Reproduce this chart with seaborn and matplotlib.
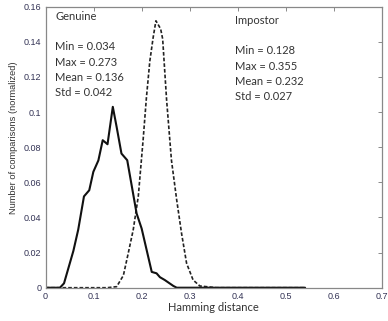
import matplotlib
matplotlib.use("Agg")
import matplotlib.pyplot as plt
import seaborn as sns
import pandas as pd

# Genuine distribution (Hamming distance, normalized count)
genuine_x = [0.0, 0.030, 0.0385, 0.058, 0.068, 0.080, 0.091, 0.0995, 0.110, 0.119,
             0.129, 0.140, 0.148, 0.158, 0.170, 0.1895, 0.200, 0.221, 0.231, 0.238,
             0.248, 0.266, 0.273, 0.54]
genuine_y = [0.0, 0.0, 0.0025, 0.021, 0.033, 0.052, 0.0555, 0.066, 0.0725, 0.084,
             0.0817, 0.103, 0.0915, 0.0764, 0.0726, 0.0423, 0.0337, 0.009, 0.0082, 0.006,
             0.0044, 0.001, 0.0, 0.0]

# Impostor distribution
impostor_x = [0.0, 0.128, 0.148, 0.162, 0.172, 0.1825, 0.193, 0.203, 0.210, 0.217,
              0.224, 0.2297, 0.2395, 0.2437, 0.252, 0.262, 0.273, 0.283, 0.2935, 0.307,
              0.321, 0.355, 0.54]
impostor_y = [0.0, 0.0, 0.0006, 0.007, 0.0195, 0.033, 0.052, 0.084, 0.1085, 0.129,
              0.1426, 0.152, 0.1474, 0.1417, 0.1066, 0.0726, 0.0498, 0.031, 0.0139, 0.0044,
              0.001, 0.0, 0.0]

genuine_stats = ["Min = 0.034", "Max = 0.273", "Mean = 0.136", "Std = 0.042"]
impostor_stats = ["Min = 0.128", "Max = 0.355", "Mean = 0.232", "Std = 0.027"]
xticks = [0, 0.1, 0.2, 0.3, 0.4, 0.5, 0.6, 0.7]
xtick_labels = ["0", "0.1", "0.2", "0.3", "0.4", "0.5", "0.6", "0.7"]
yticks = [0, 0.02, 0.04, 0.06, 0.08, 0.1, 0.12, 0.14, 0.16]
ytick_labels = ["0", "0.02", "0.04", "0.06", "0.08", "0.1", "0.12", "0.14", "0.16"]

sns.set_style("white")
plt.rcParams['font.family'] = ['Liberation Sans', 'DejaVu Sans']

fig = plt.figure(figsize=(3.88, 3.21), dpi=100)
ax = fig.add_axes([0.1173, 0.1037, 0.8672, 0.8753])

gdf = pd.DataFrame({"x": genuine_x, "y": genuine_y})
idf = pd.DataFrame({"x": impostor_x, "y": impostor_y})
sns.lineplot(data=idf, x="x", y="y", ax=ax, color="#222222", linewidth=1.2,
             linestyle=(0, (2.2, 1.2)), sort=False)
sns.lineplot(data=gdf, x="x", y="y", ax=ax, color="#111111", linewidth=1.5, sort=False)

ax.set_xlim(0, 0.7)
ax.set_ylim(0, 0.16)
ax.set_xticks(xticks)
ax.set_xticklabels(xtick_labels)
ax.set_yticks(yticks)
ax.set_yticklabels(ytick_labels)
ax.tick_params(direction="in", length=3, width=0.6, colors="#777777",
               labelcolor="#333355", labelsize=6.5, top=True, right=True, pad=3)
for s in ax.spines.values():
    s.set_color("#888888")
    s.set_linewidth(0.9)

ax.set_xlabel("Hamming distance", family=["Lato", "DejaVu Sans"], fontsize=8,
              color="#333333", labelpad=1)
ax.set_ylabel("Number of comparisons (normalized)", fontsize=6.7,
              color="#333333")
ax.yaxis.set_label_coords(-0.083, 0.533)


def px(x, y):
    return ax.transData.inverted().transform(fig.transFigure.transform((x / 388, 1 - y / 321)))


for (x, y, t) in [(55, 17, "Genuine"), (235, 21, "Impostor")]:
    xx, yy = px(x, y)
    ax.text(xx, yy, t, family=["Lato", "DejaVu Sans"], fontsize=8, color="#333333",
            va="center", ha="left")
for i, t in enumerate(genuine_stats):
    xx, yy = px(55, 47 + i * 15.3)
    ax.text(xx, yy, t, family=["Lato", "DejaVu Sans"], fontsize=8, color="#333333",
            va="center", ha="left")
for i, t in enumerate(impostor_stats):
    xx, yy = px(235, 51 + i * 15.3)
    ax.text(xx, yy, t, family=["Lato", "DejaVu Sans"], fontsize=8, color="#333333",
            va="center", ha="left")

fig.savefig("out.png", dpi=100)
